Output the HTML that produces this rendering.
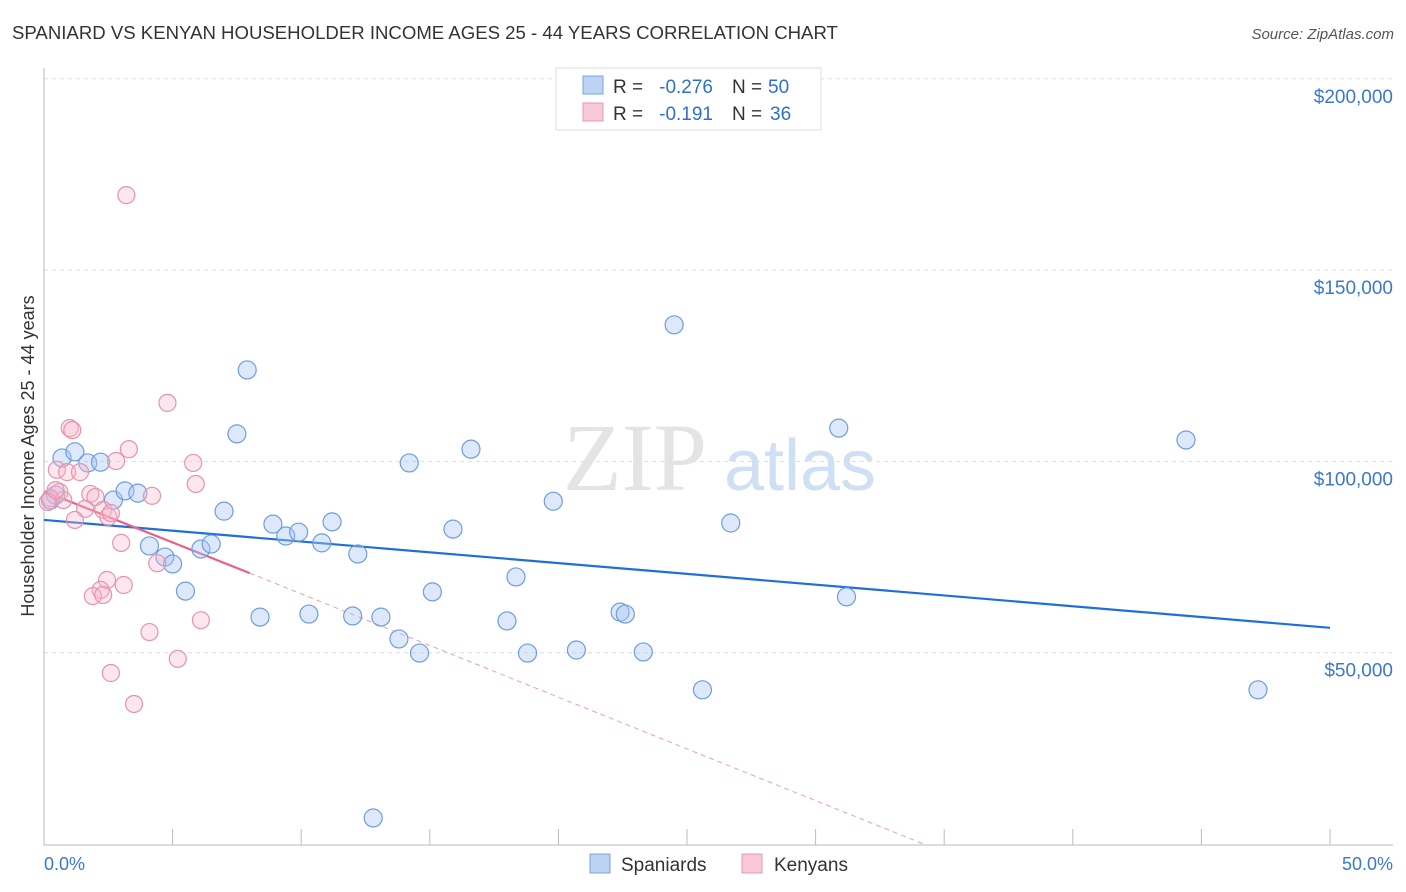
<!DOCTYPE html>
<html><head><meta charset="utf-8"><style>
body{margin:0;background:#fff;font-family:"Liberation Sans",sans-serif;}
svg{display:block}
</style></head><body>
<svg id="chart" width="1406" height="892">
<text x="12" y="39" font-size="18.6" fill="#333">SPANIARD VS KENYAN HOUSEHOLDER INCOME AGES 25 - 44 YEARS CORRELATION CHART</text>
<text x="1394" y="39" font-size="15" fill="#555" font-style="italic" text-anchor="end">Source: ZipAtlas.com</text>
<text x="635" y="490" font-size="96" fill="#e4e4e4" font-family="Liberation Serif,serif" text-anchor="middle">ZIP</text>
<text x="800" y="490" font-size="72" fill="#cfe0f4" text-anchor="middle">atlas</text>
<g id="grid"></g><g id="axes"></g><g id="trends"></g><g id="pts"></g>
<text x="34" y="456" font-size="18" fill="#333" text-anchor="middle" transform="rotate(-90 34 456)">Householder Income Ages 25 - 44 years</text>
<text x="44" y="870" font-size="18" fill="#3a78d0">0.0%</text>
<text x="1393" y="870" font-size="18" fill="#3a78d0" text-anchor="end">50.0%</text>
<g>
<rect x="556" y="68" width="265" height="62" fill="#fff" stroke="#ddd"/>
<rect x="583" y="76" width="20" height="18" fill="#bcd3f4" stroke="#7aa5e0"/>
<rect x="583" y="103" width="20" height="18" fill="#f8c8d6" stroke="#e89ab2"/>
<text x="613" y="93" font-size="19" fill="#333">R =</text>
<text x="713" y="93" font-size="19" fill="#2f6fd0" text-anchor="end">-0.276</text>
<text x="732" y="93" font-size="19" fill="#333">N =</text>
<text x="768" y="93" font-size="19" fill="#2f6fd0">50</text>
<text x="613" y="120" font-size="19" fill="#333">R =</text>
<text x="713" y="120" font-size="19" fill="#2f6fd0" text-anchor="end">-0.191</text>
<text x="732" y="120" font-size="19" fill="#333">N =</text>
<text x="770" y="120" font-size="19" fill="#2f6fd0">36</text>
</g>
<g>
<rect x="590" y="854" width="20" height="19" fill="#bcd3f4" stroke="#7aa5e0"/>
<text x="621" y="871" font-size="19" fill="#333">Spaniards</text>
<rect x="742" y="854" width="20" height="19" fill="#f8c8d6" stroke="#e89ab2"/>
<text x="774" y="871" font-size="19" fill="#333">Kenyans</text>
</g>
</svg>
<script>
const yTicks=[50000,100000,150000,200000];
const yTickLabels=["$50,000","$100,000","$150,000","$200,000"];
const xTicks=[0,5,10,15,20,25,30,35,40,45,50];
const blueX=[0.7,1.2,1.7,2.2,2.7,3.15,3.65,4.1,4.7,5.0,5.5,6.1,6.5,7.0,7.5,7.9,8.4,8.9,9.4,9.9,10.3,10.8,11.2,12.0,12.2,13.1,13.8,14.2,14.6,15.1,15.9,16.6,18.0,18.35,18.8,19.8,20.7,22.4,22.6,23.3,24.5,25.6,26.7,30.9,31.2,44.4,47.2,12.8,0.25,0.45];
const blueY=[100.9,102.5,99.6,99.8,89.9,92.3,91.7,77.9,75.0,73.2,66.1,77.1,78.4,87.0,107.2,123.9,59.3,83.6,80.5,81.5,60.1,78.7,84.2,59.6,75.8,59.3,53.6,99.6,49.9,65.9,82.3,103.2,58.3,69.8,49.9,89.6,50.7,60.6,60.1,50.2,135.7,40.3,83.9,108.7,64.6,105.6,40.3,6.8,89.9,91.2];
const pinkX=[3.2,4.8,1.0,1.1,3.3,2.8,5.8,0.5,0.9,1.4,5.9,1.8,4.2,2.0,0.6,0.25,0.75,1.6,2.3,2.5,1.2,3.0,4.4,2.45,3.1,2.2,1.9,2.3,6.1,4.1,5.2,2.6,3.5,0.15,0.45,2.6];
const pinkY=[169.6,115.3,108.7,108.2,103.2,100.1,99.6,97.8,97.2,97.2,94.1,91.5,91.0,90.7,92.0,90.4,89.9,87.6,87.3,85.5,84.7,78.7,73.4,69.0,67.7,66.4,64.8,65.1,58.5,55.4,48.4,44.7,36.6,89.4,92.5,86.5];
const blueTrend=[84.7,56.5];
const pinkTrend=[92.2,70.8,8.0,34.2];
const NS="http://www.w3.org/2000/svg";
const X=v=>44+v*(1330-44)/50;
const Y=k=>844-k*191.3/50;
function mk(tag,attrs,parent){const e=document.createElementNS(NS,tag);for(const a in attrs)e.setAttribute(a,attrs[a]);document.getElementById(parent).appendChild(e);return e;}
yTicks.forEach((t,i)=>{
 const y=Y(t/1000);
 const g=mk('line',{x1:44,x2:1393,y1:y,y2:y,stroke:'#ddd','stroke-dasharray':'4 4'},'grid');
 
 
 const tx=mk('text',{x:1393,y:y+24,'font-size':19,fill:'#3a78d0','text-anchor':'end'},'grid');
 tx.textContent=yTickLabels[i];
 
 
});
let ax=mk('line',{x1:44,x2:44,y1:68,y2:845,stroke:'#bbb'},'axes');


ax=mk('line',{x1:44,x2:1393,y1:845,y2:845,stroke:'#bbb'},'axes');


xTicks.forEach(t=>{
 const l=mk('line',{x1:X(t),x2:X(t),y1:829,y2:845,stroke:'#bbb'},'axes');
 
 
});
let tl=mk('line',{x1:X(0),y1:Y(blueTrend[0]),x2:X(50),y2:Y(blueTrend[1]),stroke:'#1f6fd6','stroke-width':2.2},'trends');


tl=mk('line',{x1:X(0),y1:Y(pinkTrend[0]),x2:X(pinkTrend[2]),y2:Y(pinkTrend[1]),stroke:'#e8608a','stroke-width':2.2},'trends');


tl=mk('line',{x1:X(pinkTrend[2]),y1:Y(pinkTrend[1]),x2:X(pinkTrend[3]),y2:Y(0),stroke:'#e8a0b8','stroke-width':1,'stroke-dasharray':'5 4'},'trends');


blueX.forEach((x,i)=>{
 const c=mk('circle',{cx:X(x),cy:Y(blueY[i]),r:9,fill:'rgba(170,198,242,0.4)',stroke:'#6d9de0','stroke-width':1.2},'pts');
 
 
});
pinkX.forEach((x,i)=>{
 const c=mk('circle',{cx:X(x),cy:Y(pinkY[i]),r:8.5,fill:'rgba(246,186,204,0.35)',stroke:'#e892ad','stroke-width':1.2},'pts');
 
 
});
</script>
</body></html>
